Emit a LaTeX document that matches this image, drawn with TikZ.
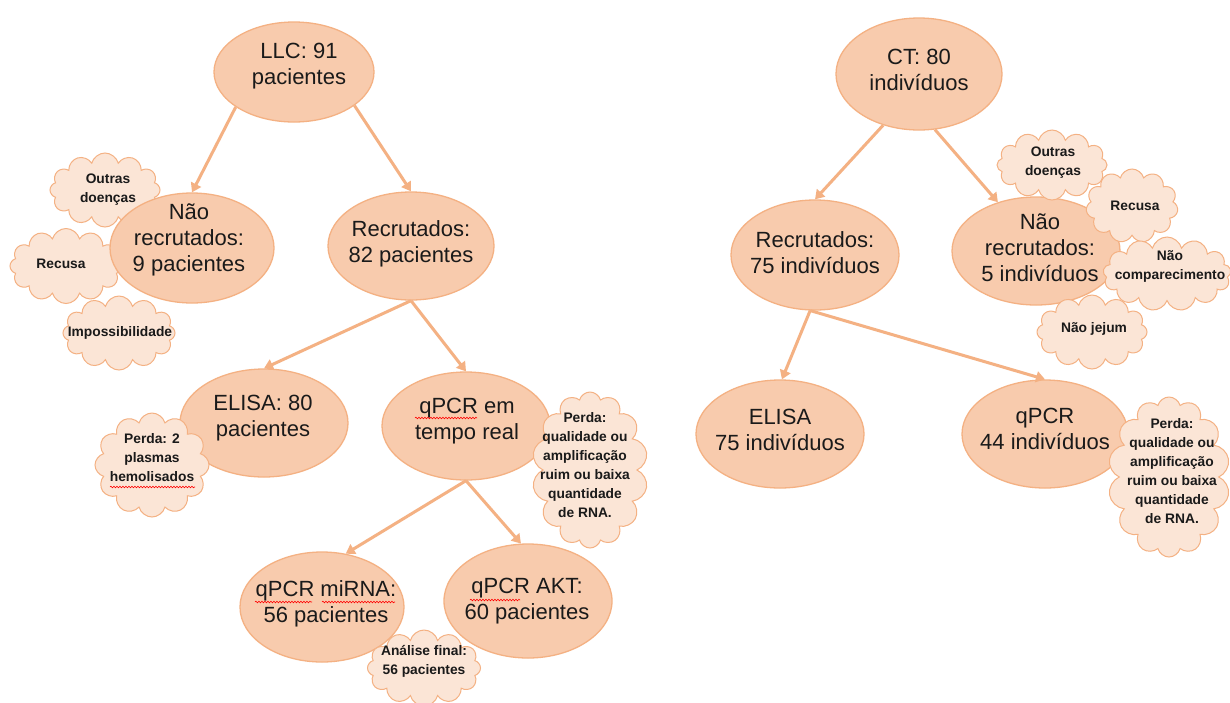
\documentclass[tikz,border=0pt]{standalone}
\usepackage{fontspec}
\setmainfont{Liberation Sans}
\usetikzlibrary{shapes.geometric,shapes.symbols,arrows.meta,decorations.pathmorphing}
\definecolor{efill}{HTML}{F8CBAD}
\definecolor{eline}{HTML}{F4B183}
\definecolor{cfill}{HTML}{FBE5D6}
\definecolor{arrc}{HTML}{F4B183}
\definecolor{txt}{HTML}{1A1A1A}
\begin{document}
\begin{tikzpicture}[x=1pt,y=-1pt,
  ell/.style={ellipse, draw=eline, fill=efill, line width=1.3pt, inner sep=0pt},
  et/.style={align=center, inner sep=0pt, text=txt, font=\fontsize{22}{26}\selectfont},
  cl/.style={cloud, cloud puffs=12, cloud ignores aspect, draw=eline, fill=cfill, line width=1pt, inner sep=0pt},
  ct/.style={align=center, inner sep=0pt, text=txt, font=\fontsize{13.8}{19}\selectfont\bfseries},
  arr/.style={draw=arrc, line width=3pt, -{Triangle[length=9pt,width=11pt]}},
  wave/.style={draw=red, line width=0.6pt, decorate, decoration={snake, amplitude=0.8pt, segment length=3pt}}
]
\useasboundingbox (0,0) rectangle (1230,702);
\fill[white] (0,0) rectangle (1230,702);

% ---- left tree ----
\node[cl, minimum width=110pt, minimum height=74pt] (cLO) at (105,190) {};
\node[ct] (tLO) at (108,190) {Outras\\doenças};
\node[cl, minimum width=112pt, minimum height=75pt] (cLR) at (66,266) {};
\node[ct] (tLR) at (61,264) {Recusa};
\node[cl, minimum width=112pt, minimum height=74pt] (cLI) at (119,333) {};
\node[ct] (tLI) at (120,333) {Impossibilidade};

\node[ell, minimum width=160pt, minimum height=100pt] (llc) at (294,72) {};
\node[et] (tllc) at (299,66) {LLC: 91\\pacientes};
\node[ell, minimum width=164pt, minimum height=110pt] (nr) at (192,248) {};
\node[et] (tnr) at (189,240) {Não\\recrutados:\\9 pacientes};
\node[ell, minimum width=166pt, minimum height=108pt] (rec) at (411,246) {};
\node[et] (trec) at (411,244) {Recrutados:\\82 pacientes};
\node[ell, minimum width=168pt, minimum height=108pt] (elisa) at (264,423) {};
\node[et] (telisa) at (263,418) {ELISA: 80\\pacientes};
\node[ell, minimum width=168pt, minimum height=108pt] (qrt) at (466,426) {};
\node[et] (tqrt) at (467,421) {qPCR em\\tempo real};
\node[ell, minimum width=164pt, minimum height=110pt] (mi) at (322,607) {};
\node[et] (tmi) at (326,604) {qPCR miRNA:\\56 pacientes};
\node[ell, minimum width=168pt, minimum height=114pt] (akt) at (528,601) {};
\node[et] (takt) at (527,601) {qPCR AKT:\\60 pacientes};

\node[cl, minimum width=114pt, minimum height=104pt] (cPE) at (152,465) {};
\node[ct] (tPE) at (152,458) {Perda: 2\\plasmas\\hemolisados};
\node[cl, cloud puffs=14, minimum width=116pt, minimum height=156pt] (cPQ) at (590,470) {};
\node[ct] (tPQ) at (585,465) {Perda:\\qualidade ou\\amplificação\\ruim ou baixa\\quantidade\\de RNA.};
\node[cl, minimum width=113pt, minimum height=76pt] (cAF) at (424,668) {};
\node[ct] (tAF) at (424,661) {Análise final:\\56 pacientes};

\draw[arr] (llc.211) -- (nr.north);
\draw[arr] (llc.331) -- (rec.north);
\draw[arr] (rec.south) -- (elisa.north);
\draw[arr] (rec.south) -- (qrt.north);
\draw[arr] (qrt.south) -- (mi.66);
\draw[arr] (qrt.south) -- (akt.97);

% spell-check squiggles
\draw[wave] (415,418) -- (477,418);
\draw[wave] (255,602) -- (312,602);
\draw[wave] (322,602) -- (395,602);
\draw[wave] (470,600) -- (520,600);
\draw[wave] (110,487) -- (195,487);

% ---- right tree ----
\node[ell, minimum width=166pt, minimum height=112pt] (ct) at (919,74) {};
\node[et] (tct) at (919,70) {CT: 80\\indivíduos};
\node[ell, minimum width=168pt, minimum height=110pt] (recR) at (815,255) {};
\node[et] (trecR) at (815,253) {Recrutados:\\75 indivíduos};
\node[ell, minimum width=168pt, minimum height=108pt] (nrR) at (1036,251) {};
\node[et] (tnrR) at (1040,248) {Não\\recrutados:\\5 indivíduos};
\node[ell, minimum width=168pt, minimum height=108pt] (elisaR) at (780,434) {};
\node[et] (telisaR) at (780,430) {ELISA\\75 indivíduos};
\node[ell, minimum width=166pt, minimum height=108pt] (qpcrR) at (1045,434) {};
\node[et] (tqpcrR) at (1045,429) {qPCR\\44 indivíduos};

\node[cl, minimum width=110pt, minimum height=70pt] (cRO) at (1052,165) {};
\node[ct] (tRO) at (1053,163) {Outras\\doenças};
\node[cl, cloud puffs=11, minimum width=92pt, minimum height=74pt] (cRR) at (1132,206) {};
\node[ct] (tRR) at (1135,206) {Recusa};
\node[cl, cloud puffs=13, minimum width=128pt, minimum height=74pt] (cRN) at (1167,274) {};
\node[ct] (tRN) at (1170,266) {Não\\comparecimento};
\node[cl, minimum width=110pt, minimum height=74pt] (cRJ) at (1092,332) {};
\node[ct] (tRJ) at (1094,329) {Não jejum};
\node[cl, cloud puffs=14, minimum width=122pt, minimum height=160pt] (cRP) at (1169,477) {};
\node[ct] (tRP) at (1172,471) {Perda:\\qualidade ou\\amplificação\\ruim ou baixa\\quantidade\\de RNA.};

\draw[arr] (ct.235) -- (recR.north);
\draw[arr] (ct.286) -- (nrR.128);
\draw[arr] (recR.265) -- (elisaR.88);
\draw[arr] (recR.265) -- (qpcrR.north);
\end{tikzpicture}
\end{document}
